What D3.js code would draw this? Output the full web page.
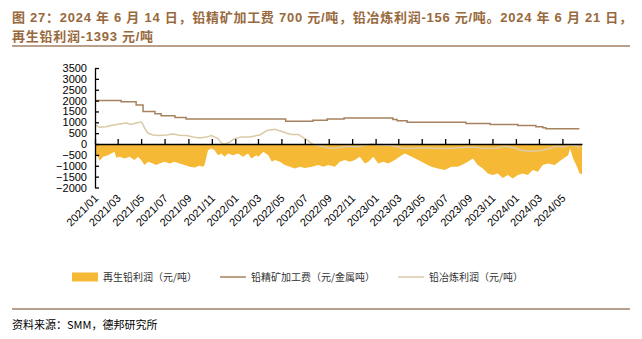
<!DOCTYPE html>
<html><head><meta charset="utf-8">
<script src="https://cdn.jsdelivr.net/npm/d3@7"></script>
<style>body{margin:0;background:#fff}svg{display:block}</style>
</head><body><svg id="c" width="642" height="339"></svg>
<script>
const titleLines = ["图 27：2024 年 6 月 14 日，铅精矿加工费 700 元/吨，铅冶炼利润-156 元/吨。2024 年 6 月 21 日，", "再生铅利润-1393 元/吨"];
const yTicks = [3500, 3000, 2500, 2000, 1500, 1000, 500, 0, -500, -1000, -1500, -2000];
const xTickLabels = ["2021/01","2021/03","2021/05","2021/07","2021/09","2021/11","2022/01","2022/03","2022/05","2022/07","2022/09","2022/11","2023/01","2023/03","2023/05","2023/07","2023/09","2023/11","2024/01","2024/03","2024/05"];
const xDomain = ["2021-01-01", "2024-06-21"];

// 再生铅利润 (元/吨)
const recycleDates = ["2021-01-01","2021-01-09","2021-01-13","2021-01-22","2021-02-04","2021-02-12","2021-02-21","2021-02-25","2021-03-06","2021-03-19","2021-04-01","2021-04-14","2021-04-23","2021-05-01","2021-05-10","2021-05-19","2021-06-01","2021-06-09","2021-06-18","2021-07-01","2021-07-14","2021-07-27","2021-08-09","2021-08-22","2021-09-04","2021-09-17","2021-09-30","2021-10-09","2021-10-13","2021-10-22","2021-10-31","2021-11-08","2021-11-17","2021-11-26","2021-12-04","2021-12-13","2021-12-26","2022-01-08","2022-01-21","2022-02-03","2022-02-12","2022-02-25","2022-03-02","2022-03-15","2022-03-28","2022-04-06","2022-04-14","2022-04-27","2022-05-10","2022-05-23","2022-06-05","2022-06-18","2022-07-01","2022-07-19","2022-08-05","2022-08-18","2022-08-31","2022-09-17","2022-09-30","2022-10-13","2022-10-26","2022-11-08","2022-11-21","2022-12-04","2022-12-13","2022-12-26","2023-01-08","2023-01-21","2023-02-03","2023-02-20","2023-03-10","2023-03-18","2023-04-05","2023-04-22","2023-05-09","2023-05-26","2023-06-12","2023-06-30","2023-07-17","2023-08-03","2023-08-21","2023-08-29","2023-09-11","2023-09-24","2023-10-07","2023-10-20","2023-11-02","2023-11-15","2023-11-28","2023-12-11","2023-12-24","2024-01-06","2024-01-19","2024-02-01","2024-02-14","2024-02-27","2024-03-11","2024-03-24","2024-04-11","2024-04-28","2024-05-16","2024-05-21","2024-05-29","2024-06-06","2024-06-15","2024-06-21"];
const recycleProfit = [-510,-585,-770,-585,-510,-430,-355,-630,-585,-665,-585,-740,-585,-740,-970,-815,-890,-970,-890,-815,-890,-815,-890,-970,-1050,-1080,-1000,-1050,-970,-280,-200,-280,-510,-430,-585,-430,-510,-430,-585,-430,-665,-510,-585,-355,-510,-815,-740,-815,-970,-1050,-1125,-1050,-1100,-1050,-970,-1050,-970,-1050,-815,-740,-815,-740,-585,-890,-815,-585,-890,-815,-890,-740,-510,-430,-585,-740,-890,-1050,-1125,-1200,-1050,-1050,-890,-815,-665,-970,-1125,-1360,-1430,-1360,-1560,-1430,-1590,-1430,-1360,-1430,-1200,-1280,-970,-890,-970,-740,-510,-200,-665,-970,-1360,-1393];

// 铅精矿加工费 (元/金属吨)
const feeDates = ["2021-01-01","2021-03-10","2021-04-18","2021-05-06","2021-06-06","2021-06-22","2021-07-28","2021-08-26","2022-05-12","2022-07-22","2022-08-28","2022-10-11","2023-02-15","2023-02-26","2023-03-24","2023-08-24","2023-10-26","2024-01-06","2024-02-22","2024-03-11","2024-03-19","2024-06-14"];
const feeValues = [2000,1950,1800,1500,1400,1300,1225,1150,1050,1100,1150,1200,1125,1075,1000,950,900,850,800,750,700,700];

// 铅冶炼利润 (元/吨)
const smeltDates = ["2021-01-01","2021-01-13","2021-01-30","2021-02-12","2021-03-06","2021-03-23","2021-04-05","2021-04-18","2021-05-01","2021-05-06","2021-05-10","2021-05-19","2021-06-01","2021-06-18","2021-07-05","2021-07-23","2021-08-09","2021-08-27","2021-09-13","2021-09-30","2021-10-18","2021-10-31","2021-11-17","2021-11-26","2021-12-04","2021-12-17","2021-12-30","2022-01-17","2022-02-07","2022-02-25","2022-03-06","2022-03-24","2022-04-14","2022-05-02","2022-05-15","2022-05-28","2022-06-14","2022-06-27","2022-07-10","2022-07-23","2022-08-14","2022-08-31","2022-09-17","2022-10-05","2022-10-26","2022-11-17","2022-12-04","2022-12-22","2023-01-08","2023-02-03","2023-02-20","2023-03-10","2023-03-27","2023-04-22","2023-05-26","2023-06-30","2023-08-03","2023-09-07","2023-10-12","2023-11-15","2023-12-03","2023-12-29","2024-01-15","2024-02-10","2024-03-07","2024-04-02","2024-04-11","2024-05-07","2024-05-20","2024-06-06","2024-06-14"];
const smeltProfit = [880,770,800,855,925,965,900,965,1010,900,725,495,420,390,420,460,400,390,320,280,320,390,250,40,-10,80,250,320,320,390,420,620,680,580,495,440,440,290,145,-30,-100,-180,-210,-140,-100,-140,-50,0,-50,-50,-100,-180,-210,-180,-180,-210,-180,-140,-210,-180,-100,-180,-300,-330,-300,-180,-100,-140,-30,-100,-156];

const legendLabels = ["再生铅利润（元/吨）", "铅精矿加工费（元/金属吨）", "铅冶炼利润（元/吨）"];
const sourceText = "资料来源：SMM，德邦研究所";

const colors = {area: "#f5b935", fee: "#a7825f", smelt: "#dccaa7", title: "#98693c", rule: "#a08066"};
const latin = "'Liberation Sans', Arial, 'Noto Sans CJK SC', sans-serif";
const cjk = "'Noto Sans CJK SC', 'Liberation Sans', sans-serif";

const svg = d3.select("#c");
const pd = d3.timeParse("%Y-%m-%d");
const pm = d3.timeParse("%Y/%m");

const x = d3.scaleTime().domain(xDomain.map(pd)).range([95, 582]);
const y = d3.scaleLinear().domain([-2000, 3500]).range([187.5, 68]);

// Title
const tl = svg.append("g");
titleLines.forEach((t, i) => {
  tl.append("text").attr("x", 12).attr("y", 22 + i * 19)
    .attr("font-family", latin).attr("font-weight", "bold").attr("font-size", 13)
    .attr("fill", colors.title).text(t);
});
const t0 = tl.select("text").node();
const w0 = t0.getComputedTextLength();
const ls = (620 - w0) / (titleLines[0].length - 1);
tl.selectAll("text").attr("letter-spacing", ls);

svg.append("line").attr("x1", 12).attr("x2", 630).attr("y1", 46).attr("y2", 46)
  .attr("stroke", colors.rule).attr("stroke-width", 1.5);

// Area
const recData = recycleDates.map((d, i) => ({d: pd(d), v: recycleProfit[i]}));
svg.append("path").datum(recData)
  .attr("d", d3.area().x(p => x(p.d)).y0(y(0)).y1(p => y(p.v)))
  .attr("fill", colors.area);

// Fee line (step)
const feeData = feeDates.map((d, i) => ({d: pd(d), v: feeValues[i]}));
svg.append("path").datum(feeData)
  .attr("d", d3.line().curve(d3.curveStepAfter).x(p => x(p.d)).y(p => y(p.v)))
  .attr("fill", "none").attr("stroke", colors.fee).attr("stroke-width", 1.5);

// Smelt line
const smData = smeltDates.map((d, i) => ({d: pd(d), v: smeltProfit[i]}));
svg.append("path").datum(smData)
  .attr("d", d3.line().x(p => x(p.d)).y(p => y(p.v)))
  .attr("fill", "none").attr("stroke", colors.smelt).attr("stroke-width", 1.5);

// Y axis
const ya = svg.append("g").attr("transform", "translate(95,0)")
  .call(d3.axisLeft(y).tickValues(yTicks).tickSizeInner(-4).tickSizeOuter(0).tickPadding(8).tickFormat(d3.format("d")));
ya.select(".domain").attr("stroke", "#000").attr("stroke-width", 1.3);
ya.selectAll(".tick line").attr("stroke", "#000").attr("stroke-width", 1.3);
ya.selectAll("text").attr("font-family", latin).attr("font-size", 11).attr("fill", "#000");

// X axis at zero
const tickDates = xTickLabels.map(pm);
const xa = svg.append("g").attr("transform", `translate(0,${y(0)})`)
  .call(d3.axisBottom(x).tickValues(tickDates).tickSizeInner(-5).tickSizeOuter(0).tickFormat(""));
xa.select(".domain").attr("stroke", "#000").attr("stroke-width", 1.5);
xa.selectAll(".tick line").attr("stroke", "#000").attr("stroke-width", 1.3);

// X labels
svg.append("g").selectAll("text").data(xTickLabels).join("text")
  .attr("transform", d => `translate(${x(pm(d)) + 4},199) rotate(-45)`)
  .attr("text-anchor", "end")
  .attr("font-family", latin).attr("font-size", 11).attr("fill", "#000")
  .text(d => d);

// Legend
const lg = svg.append("g").attr("font-family", cjk).attr("font-size", 10).attr("fill", "#333");
lg.append("rect").attr("x", 72).attr("y", 272.5).attr("width", 26).attr("height", 9).attr("fill", colors.area);
lg.append("text").attr("x", 103).attr("y", 280.5).text(legendLabels[0]);
lg.append("line").attr("x1", 220).attr("x2", 246).attr("y1", 277).attr("y2", 277).attr("stroke", colors.fee).attr("stroke-width", 1.5);
lg.append("text").attr("x", 251).attr("y", 280.5).text(legendLabels[1]);
lg.append("line").attr("x1", 398).attr("x2", 424).attr("y1", 277).attr("y2", 277).attr("stroke", colors.smelt).attr("stroke-width", 1.5);
lg.append("text").attr("x", 429).attr("y", 280.5).text(legendLabels[2]);

svg.append("line").attr("x1", 12).attr("x2", 630).attr("y1", 309).attr("y2", 309)
  .attr("stroke", colors.rule).attr("stroke-width", 1.5);
svg.append("text").attr("x", 12).attr("y", 329).attr("font-family", cjk).attr("font-size", 11).attr("fill", "#000").text(sourceText);
</script></body></html>
